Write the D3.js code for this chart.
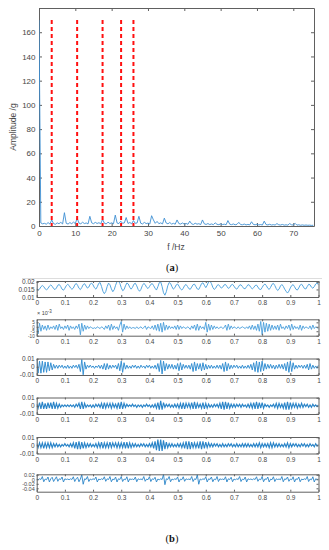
<!DOCTYPE html>
<html>
<head>
<meta charset="utf-8">
<script src="https://cdn.jsdelivr.net/npm/d3@7"></script>
<style>
  body { margin: 0; background: #fff; }
  svg { display: block; font-family: "Liberation Sans", Arial, sans-serif; }
  .axis path, .axis line { stroke: #606060; }
  .axis text { fill: #454545; }
</style>
</head>
<body>
<div class="fig"></div>
<script>
// ---------- (a) amplitude spectrum, 0.5 Hz spacing ----------
const specStep = 0.5;
const spectrum = [
  170, 2.5, 1.8, 2.2, 1.5, 2.8, 1.6, 5.0, 2.0, 1.4, 2.6, 1.9, 3.0, 1.7, 11.0, 2.2, 1.6, 2.8, 1.9, 3.2,
  2.0, 6.5, 2.4, 1.8, 3.1, 2.0, 2.5, 1.7, 8.0, 2.6, 1.9, 3.0, 2.1, 2.7, 1.8, 5.5, 2.3, 1.7, 3.2, 2.0,
  2.6, 1.8, 9.0, 2.4, 2.0, 4.0, 2.2, 2.6, 7.0, 2.1, 2.9, 1.8, 4.5, 2.2, 2.5, 8.0, 2.3, 1.7, 3.0, 2.0,
  2.4, 1.6, 8.5, 5.0, 2.2, 3.8, 1.9, 2.6, 1.7, 6.5, 2.5, 1.8, 2.9, 1.6, 2.2, 1.5, 5.0, 2.0, 1.6, 2.5,
  1.5, 2.1, 1.4, 4.0, 1.8, 1.3, 2.3, 1.5, 1.9, 1.2, 5.0, 1.8, 1.3, 2.0, 1.2, 1.7, 1.1, 2.6, 1.4, 1.1,
  1.8, 1.2, 1.5, 1.0, 4.5, 1.5, 1.1, 1.7, 1.0, 1.4, 3.0, 1.2, 1.0, 1.6, 0.9, 1.3, 0.9, 3.5, 1.3, 1.0,
  1.5, 0.9, 1.2, 0.8, 4.0, 1.2, 0.9, 1.4, 0.8, 1.1, 0.8, 2.0, 1.0, 0.8, 1.3, 0.7, 1.0, 0.7, 2.0, 1.0,
  0.8, 2.2, 0.7, 1.0, 0.6, 0.9, 0.6, 0.8, 0.6, 0.7, 0.5, 0.6
];
const markFreqs = [3.5, 10.5, 17.5, 22.6, 26.0];
const markTop = 170;
const specXTicks = [0, 10, 20, 30, 40, 50, 60, 70];
const specYTicks = [0, 20, 40, 60, 80, 100, 120, 140, 160];

// ---------- (b) decomposed components, 201 samples over 0..1 ----------
// c1..c6 in units of 1e-3
const c1 = [
  15.5,14.6,15.2,16.8,17.6,16.9,15.4,14.8,15.6,17.2,18.0,17.1,15.6,14.9,16.0,17.8,18.3,17.0,15.2,14.5,15.8,
  17.5,18.4,17.6,16.0,15.1,15.9,17.9,19.0,17.8,15.8,14.9,16.3,18.2,18.8,17.3,15.9,16.6,18.6,19.2,18.0,
  16.1,15.2,16.8,19.0,19.6,17.0,13.8,12.2,13.6,16.9,19.2,18.1,15.4,13.5,14.8,17.8,20.2,20.8,19.0,16.2,
  14.2,14.9,17.4,19.3,18.6,16.5,15.2,16.4,18.5,19.1,17.4,15.0,13.8,15.1,17.6,19.0,18.2,16.4,15.6,16.8,
  18.4,18.9,17.5,15.8,14.6,16.8,19.5,20.0,16.9,12.8,11.2,13.5,17.4,19.6,19.0,16.8,15.2,16.1,18.0,18.6,
  17.2,15.4,14.6,15.8,17.6,18.3,17.0,15.5,15.1,16.6,18.2,18.5,16.9,15.3,15.0,16.8,18.9,19.4,17.8,16.2,
  17.8,20.0,20.6,18.9,16.4,15.0,15.8,17.6,18.2,17.1,15.9,16.5,18.0,18.3,17.0,15.7,16.3,17.9,18.4,17.2,
  15.8,15.2,16.4,17.9,18.1,16.9,15.6,15.5,16.9,18.2,17.8,16.3,15.4,16.2,17.6,17.9,16.6,15.2,14.9,16.3,
  17.9,18.6,17.5,15.8,15.0,16.4,18.4,19.0,17.6,15.6,14.3,15.2,17.3,18.3,17.1,15.2,13.8,12.6,13.9,16.0,
  17.6,18.2,16.8,15.1,14.6,16.0,17.9,18.5,17.2,15.6,15.3,16.9,18.4,18.1,16.5,15.8,16.9,18.6,19.4,18.0
];
const c2 = [
  6,-8,4,-5,2,-3,1,-4,2,-3,0,-2,1,-3,2,-4,3,-2,0,-3,1,
  -2,2,-4,1,-2,0,-3,1,-2,3,-9,4,-5,2,-3,1,-2,0,-1,-2,
  -1,-2,0,-1,-2,0,-1,-3,1,-2,2,-4,3,-3,1,-2,0,-4,2,6,
  -6,3,-3,1,-2,0,-2,-1,-1,-2,0,-2,-1,0,-2,-1,1,-3,0,-1,
  -2,1,-3,2,-4,3,-5,4,-6,5,-4,2,-3,1,-2,0,-2,1,-3,2,
  -3,1,-2,0,-1,-2,0,-1,-3,1,-2,2,-4,3,-4,1,-2,0,-3,5,
  -6,3,-4,2,-3,1,-2,0,-2,-1,0,-2,-1,2,-4,3,-3,1,-2,0,
  -1,-2,0,-2,-1,0,-1,-2,0,-2,1,-3,2,-3,1,-4,3,-5,6,-9,
  5,-6,4,-5,3,-4,2,-3,1,-3,2,-4,3,-2,0,-3,1,-2,2,-4,
  3,-3,1,-2,0,-3,2,-4,1,-2,0,-1,-2,1,-3,2,-2,0,-1,-2
];
const c3 = [
  8,-8,7,-8,7,-7,6,-7,6,-5,5,-4,3,-2,2,-2,2,-1,2,-2,1,
  -2,2,-2,1,-2,2,-1,2,-2,3,-6,9,-10,6,-3,2,-1,2,-1,1,
  -2,1,-1,2,-2,2,-3,4,-4,4,-3,2,-2,2,-1,2,-3,4,-5,7,
  -7,5,-3,2,-2,1,-2,2,-1,2,-2,1,-2,2,-1,1,-2,2,-1,2,
  -2,1,-2,2,-3,4,-6,8,-9,7,-5,4,-3,3,-2,3,-3,2,-3,4,
  -5,5,-4,3,-2,2,-2,2,-3,4,-6,6,-5,4,-3,4,-5,5,-4,3,
  -3,2,-2,2,-2,1,-2,2,-2,2,-3,4,-6,6,-5,4,-3,2,-2,2,
  -1,2,-2,1,-2,2,-2,1,-2,2,-2,3,-4,5,-6,7,-7,6,-6,7,
  -5,4,-3,3,-2,3,-2,2,-3,2,-2,3,-2,3,-3,4,-5,6,-7,7,
  -6,5,-3,2,-2,2,-1,2,-2,2,-2,3,-4,4,-3,2,-2,1,-2,2
];
const c4 = [
  2,-3,4,-4,5,-4,3,-4,4,-3,4,-4,5,-4,3,-3,2,-2,1,-1,1,
  -1,1,-1,1,-1,1,-2,2,-1,3,-4,5,-4,3,-2,1,-1,1,-2,1,
  -2,2,-1,2,-2,3,-4,4,-3,3,-2,3,-3,3,-2,2,-3,4,-4,5,
  -4,3,-2,2,-1,1,-1,2,-1,1,-2,1,-1,1,-2,1,-1,2,-1,1,
  -2,1,-2,2,-3,4,-5,6,-5,4,-2,2,-1,2,-2,1,-2,2,-2,2,
  -3,3,-4,4,-4,3,-2,3,-3,4,-4,5,-4,3,-2,2,-3,4,-4,3,
  -3,2,-2,1,-2,2,-1,2,-2,3,-4,5,-5,5,-4,4,-3,2,-2,2,
  -2,2,-1,2,-2,2,-1,1,-2,2,-2,3,-3,4,-4,5,-4,4,-3,4,
  -3,2,-1,1,-2,1,-1,2,-2,3,-3,3,-2,2,-3,4,-5,5,-5,4,
  -3,3,-2,3,-3,2,-2,3,-2,2,-1,2,-2,1,-2,2,-1,1,-1,1
];
const c5 = [
  2,-3,3,-3,3,-4,3,-3,3,-3,3,-3,2,-2,2,-2,1,-2,1,-1,2,
  -1,1,-2,2,-2,3,-4,4,-5,5,-5,4,-4,3,-3,2,-2,2,-2,1,
  -2,2,-3,3,-3,4,-4,3,-3,3,-3,4,-3,3,-2,3,-3,3,-3,3,
  -3,4,-4,4,-4,3,-3,2,-2,2,-2,1,-2,2,-1,2,-2,1,-2,2,
  -2,3,-4,5,-6,7,-7,7,-7,6,-5,4,-3,2,-2,2,-2,1,-2,2,
  -2,2,-3,3,-4,5,-5,5,-5,4,-3,3,-3,3,-4,5,-5,5,-4,4,
  -3,3,-2,2,-2,2,-1,2,-2,1,-2,2,-2,1,-2,2,-1,2,-2,1,
  -2,2,-2,1,-2,2,-2,2,-2,2,-2,1,-2,2,-2,2,-2,3,-3,2,
  -2,2,-2,2,-3,3,-3,3,-2,2,-2,2,-2,1,-2,2,-2,3,-3,2,
  -2,2,-1,2,-2,1,-2,2,-1,2,-2,1,-2,2,-1,1,-2,2,-1,1
];
const c6 = [
  1,-2,2,-1,12,-11,1,-2,10,-12,2,9,-10,1,11,-9,2,-1,10,-12,
  2,-1,1,-2,2,-1,11,-10,2,9,-11,1,20,-22,2,-1,12,-10,1,-2,
  2,-1,10,-12,1,-2,2,-1,11,-9,2,-1,12,-11,1,-2,10,-12,2,-1,
  12,-10,1,-2,11,-12,2,-1,1,-2,10,-11,2,-1,1,-2,12,-9,1,-2,
  11,-10,2,-1,9,-12,1,-2,2,-1,21,-24,2,-1,12,-11,1,-2,2,-1,
  10,-12,1,-2,11,-9,2,-1,1,-2,12,-10,2,-1,20,-22,1,-2,2,-1,
  11,-12,2,-1,10,-11,1,-2,12,-10,2,-1,1,-2,11,-12,2,-1,9,-11,
  1,-2,2,-1,12,-10,1,-2,10,-12,2,-1,1,-2,2,-1,11,-9,1,-2,
  12,-11,2,-1,10,-12,1,-2,11,-10,2,-1,1,-2,12,-11,2,-1,10,-9,
  1,-2,11,-12,2,-1,10,-11,1,-2,2,-1,12,-10,1,-2,11,-12,2,-1,
  1
];
const timeTicks = [0, 0.1, 0.2, 0.3, 0.4, 0.5, 0.6, 0.7, 0.8, 0.9, 1];

const width = 329, height = 550;
const svg = d3.select(".fig").append("svg")
    .attr("width", width)
    .attr("height", height);
svg.append("rect").attr("width", width).attr("height", height).attr("fill", "#fff");

// ================= (a) =================
const A = {left: 39, right: 314, top: 8, bottom: 226};
const x = d3.scaleLinear().domain([0, 75.7]).range([A.left, A.right]);
const y = d3.scaleLinear().domain([0, 180]).range([A.bottom, A.top]);

svg.append("defs").append("clipPath").attr("id", "clipA")
  .append("rect").attr("x", A.left).attr("y", A.top)
  .attr("width", A.right - A.left).attr("height", A.bottom - A.top);

svg.append("g")
    .attr("class", "axis")
    .attr("transform", `translate(0,${A.bottom})`)
    .style("font-size", "8px")
    .call(d3.axisBottom(x).tickValues(specXTicks).tickSizeInner(-3).tickSizeOuter(0).tickPadding(4.5));
svg.append("g")
    .attr("class", "axis")
    .attr("transform", `translate(${A.left},0)`)
    .style("font-size", "8px")
    .call(d3.axisLeft(y).tickValues(specYTicks).tickSizeInner(-3).tickSizeOuter(0).tickPadding(3.5));
svg.append("g")
    .attr("class", "axis")
    .attr("transform", `translate(0,${A.top})`)
    .call(d3.axisTop(x).tickValues(specXTicks).tickSizeInner(-3).tickSizeOuter(0).tickFormat(""));
svg.append("g")
    .attr("class", "axis")
    .attr("transform", `translate(${A.right},0)`)
    .call(d3.axisRight(y).tickValues(specYTicks).tickSizeInner(-3).tickSizeOuter(0).tickFormat(""));

svg.append("path")
    .datum(spectrum)
    .attr("clip-path", "url(#clipA)")
    .attr("fill", "none")
    .attr("stroke", "#3d8fd2")
    .attr("stroke-width", 0.9)
    .attr("d", d3.line().x((d, i) => x(i * specStep)).y(d => y(d)));

svg.append("g").selectAll("line")
  .data(markFreqs)
  .join("line")
    .attr("x1", d => x(d)).attr("x2", d => x(d))
    .attr("y1", y(markTop)).attr("y2", A.bottom)
    .attr("stroke", "#ff1010")
    .attr("stroke-width", 2)
    .attr("stroke-dasharray", "4,3");

svg.append("text")
    .attr("transform", `translate(14,${(A.top + A.bottom) / 2 + 10}) rotate(-90)`)
    .attr("text-anchor", "middle")
    .attr("dominant-baseline", "middle")
    .style("font-size", "8.5px")
    .attr("fill", "#454545")
    .text("Amplitude /g");
svg.append("text")
    .attr("x", 176).attr("y", 249.5)
    .attr("text-anchor", "middle")
    .style("font-size", "8.5px")
    .attr("fill", "#454545")
    .text("f /Hz");

function caption(cx, cy, letter) {
  const t = svg.append("text")
    .attr("x", cx).attr("y", cy)
    .attr("text-anchor", "middle")
    .style("font-family", "'Liberation Serif', 'Times New Roman', serif")
    .style("font-size", "10.5px")
    .attr("fill", "#111");
  t.append("tspan").text("(");
  t.append("tspan").style("font-weight", "bold").text(letter);
  t.append("tspan").text(")");
}
caption(172, 270.5, "a");

svg.append("line")
    .attr("x1", 22).attr("x2", 322).attr("y1", 278.5).attr("y2", 278.5)
    .attr("stroke", "#dddddd").attr("stroke-width", 1);

// ================= (b) =================
const B = {left: 36.7, right: 318.5};
const tx = d3.scaleLinear().domain([0, 1]).range([B.left, B.right]);

const panels = [
  {data: c1, top: 281, bottom: 297, domain: [10, 20.6], ticks: [10, 15, 20], labels: ["0.01", "0.015", "0.02"], color: "#55a6df", sw: 1.0},
  {data: c2, top: 319.3, bottom: 335.7, domain: [-10, 8.4], ticks: [-10, -5, 0, 5], labels: ["-10", "-5", "0", "5"], color: "#4a9edb", sw: 0.9, exp: true, fs: "4.6px"},
  {data: c3, top: 358.5, bottom: 375, domain: [-10.3, 10.3], ticks: [-10, 0, 10], labels: ["-0.01", "0", "0.01"], color: "#3790d2", sw: 1.0},
  {data: c4, top: 397.5, bottom: 414, domain: [-10.3, 10.3], ticks: [-10, 0, 10], labels: ["-0.01", "0", "0.01"], color: "#2a84c8", sw: 1.15},
  {data: c5, top: 437, bottom: 453.5, domain: [-10.3, 10.3], ticks: [-10, 0, 10], labels: ["-0.01", "0", "0.01"], color: "#2a84c8", sw: 1.15},
  {data: c6, top: 474.3, bottom: 491.7, domain: [-55, 22], ticks: [-40, -20, 0, 20], labels: ["-0.04", "-0.02", "0", "0.02"], color: "#2a84c8", sw: 0.9, fs: "5.5px"}
];

panels.forEach((p, k) => {
  const py = d3.scaleLinear().domain(p.domain).range([p.bottom, p.top]);
  const g = svg.append("g");

  g.append("clipPath").attr("id", "clipB" + k)
    .append("rect").attr("x", B.left).attr("y", p.top)
    .attr("width", B.right - B.left).attr("height", p.bottom - p.top);

  g.append("path")
    .datum(p.data)
    .attr("clip-path", `url(#clipB${k})`)
    .attr("fill", "none")
    .attr("stroke", p.color)
    .attr("stroke-width", p.sw)
    .attr("d", d3.line().x((d, i) => tx(i / (p.data.length - 1))).y(d => py(d)));

  g.append("g")
    .attr("class", "axis")
    .attr("transform", `translate(0,${p.bottom})`)
    .style("font-size", "6.5px")
    .call(d3.axisBottom(tx).tickValues(timeTicks).tickSizeInner(-2).tickSizeOuter(0).tickPadding(3.5)
      .tickFormat(d3.format("~g")));
  g.append("g")
    .attr("class", "axis")
    .attr("transform", `translate(0,${p.top})`)
    .call(d3.axisTop(tx).tickValues(timeTicks).tickSizeInner(-2).tickSizeOuter(0).tickFormat(""));
  g.append("g")
    .attr("class", "axis")
    .attr("transform", `translate(${B.left},0)`)
    .style("font-size", p.fs || "6.5px")
    .call(d3.axisLeft(py).tickValues(p.ticks).tickSizeInner(-2).tickSizeOuter(0).tickPadding(2)
      .tickFormat((d, i) => p.labels[i]));
  g.append("g")
    .attr("class", "axis")
    .attr("transform", `translate(${B.right},0)`)
    .call(d3.axisRight(py).tickValues(p.ticks).tickSizeInner(-2).tickSizeOuter(0).tickFormat(""));

  if (p.exp) {
    const e = g.append("text")
      .attr("x", 37).attr("y", p.top - 4)
      .style("font-size", "5.5px")
      .attr("fill", "#454545");
    e.append("tspan").text("\u00d7 10");
    e.append("tspan").attr("dy", -2.5).style("font-size", "4.5px").text("-3");
  }
});

caption(172, 541.5, "b");
</script>
</body>
</html>
